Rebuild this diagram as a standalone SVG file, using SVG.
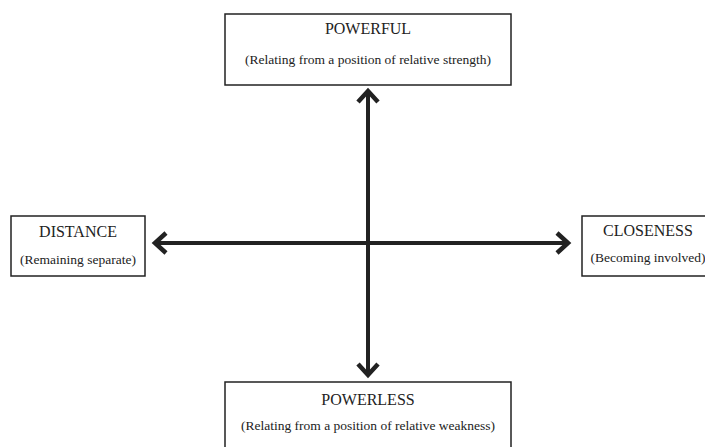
<svg xmlns="http://www.w3.org/2000/svg" width="705" height="447" viewBox="0 0 705 447">
<style>
.box{fill:#fff;stroke:#222;stroke-width:1.5}
.t{font-family:"Liberation Serif",serif;fill:#222;text-anchor:middle}
.h{font-size:16px}
.s{font-size:13.5px}
.ax{stroke:#222;stroke-width:4;fill:none}
.hd{stroke:#222;stroke-width:4.5;fill:none;stroke-linejoin:miter;stroke-linecap:butt}
</style>
<rect width="705" height="447" fill="#fff"/>
<g id="connectors">
<line class="ax" x1="368" y1="92" x2="368" y2="374"/>
<line class="ax" x1="156" y1="243" x2="567" y2="243"/>
<path class="hd" d="M358,102 L368,91 L378,102"/>
<path class="hd" d="M358,364 L368,375 L378,364"/>
<path class="hd" d="M166,233 L155,243 L166,253"/>
<path class="hd" d="M557,233 L568,243 L557,253"/>
</g>
<g id="powerful">
<rect class="box" x="225" y="14" width="286" height="71"/>
<text class="t h" x="368" y="34">POWERFUL</text>
<text class="t s" x="368" y="64">(Relating from a position of relative strength)</text>
</g>
<g id="distance">
<rect class="box" x="11" y="216" width="134" height="60"/>
<text class="t h" x="78" y="237">DISTANCE</text>
<text class="t s" x="78" y="264">(Remaining separate)</text>
</g>
<g id="closeness">
<rect class="box" x="582" y="216" width="130" height="60"/>
<text class="t h" x="648" y="236">CLOSENESS</text>
<text class="t s" x="648" y="262">(Becoming involved)</text>
</g>
<g id="powerless">
<rect class="box" x="225" y="382" width="286" height="80"/>
<text class="t h" x="368" y="405">POWERLESS</text>
<text class="t s" x="368" y="430">(Relating from a position of relative weakness)</text>
</g>
</svg>
